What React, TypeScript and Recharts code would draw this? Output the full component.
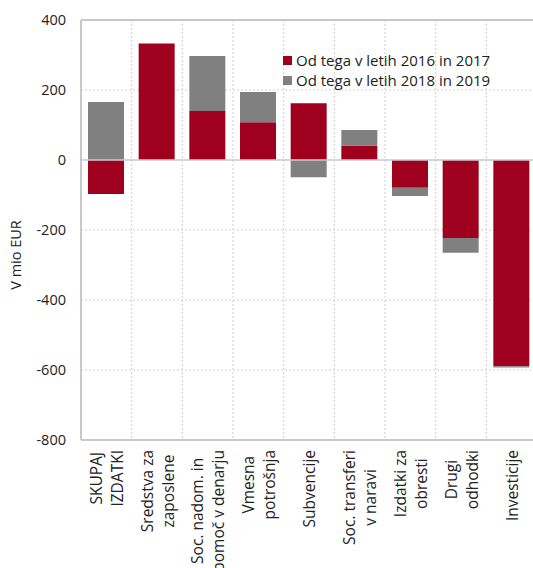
import { BarChart, Bar, XAxis, YAxis, CartesianGrid, ReferenceLine, Legend } from 'recharts'

const categories = [
  'SKUPAJ\nIZDATKI',
  'Sredstva za\nzaposlene',
  'Soc. nadom. in\npomoč v denarju',
  'Vmesna\npotrošnja',
  'Subvencije',
  'Soc. transferi\nv naravi',
  'Izdatki za\nobresti',
  'Drugi\nodhodki',
  'Investicije',
]
const red2016_2017 = [-97, 333, 140, 108, 162, 41, -79, -223, -589]
const gray2018_2019 = [166, 0, 157, 86, -49, 45, -24, -42, -4]
const yTicks = [400, 200, 0, -200, -400, -600, -800]

const RED = '#9e001e'
const GRAY = '#808080'
const FONT = '"Open Sans", sans-serif'
const FS = 15.5

const data = categories.map((c, i) => ({ name: c, red: red2016_2017[i], gray: gray2018_2019[i] }))

let ctx: CanvasRenderingContext2D | null = null
function measure(s: string) {
  if (!ctx) ctx = document.createElement('canvas').getContext('2d')
  if (!ctx) return s.length * FS * 0.55
  ctx.font = `${FS}px ${FONT}`
  return ctx.measureText(s).width
}

function XTick(props: any) {
  const { x, y, payload } = props
  const lines: string[] = String(payload.value).split('\n')
  const maxW = Math.max(...lines.map(measure))
  const cx = -(10 + maxW / 2)
  return (
    <g transform={`translate(${x},${y}) rotate(-90)`}>
      {lines.map((l, i) => (
        <text key={i} x={cx} y={(i - (lines.length - 1) / 2) * 21} textAnchor="middle" dominantBaseline="central"
          fontSize={FS} fontFamily={FONT} fill="#222">{l}</text>
      ))}
    </g>
  )
}

function LegendBox() {
  const items = [
    { label: 'Od tega v letih 2016 in 2017', color: RED },
    { label: 'Od tega v letih 2018 in 2019', color: GRAY },
  ]
  return (
    <div style={{ fontFamily: FONT, fontSize: 15, color: '#222', whiteSpace: 'nowrap' }}>
      {items.map((it) => (
        <div key={it.label} style={{ display: 'flex', alignItems: 'center', height: 20 }}>
          <span style={{ width: 9, height: 9, background: it.color, marginRight: 4, display: 'inline-block' }} />
          {it.label}
        </div>
      ))}
    </div>
  )
}

export default function App() {
  return (
    <div style={{ position: 'absolute', left: 0, top: 0, width: 533, height: 568, overflow: 'hidden', background: '#fff' }}>
      <BarChart width={537} height={568} data={data} stackOffset="sign" margin={{ top: 20, right: 0, left: 0, bottom: 0 }}>
        <CartesianGrid
          stroke="#cfcfcf"
          strokeDasharray="2 2"
          verticalCoordinatesGenerator={({ offset }: any) =>
            categories.map((_, i) => offset.left + ((i + 1) * offset.width) / categories.length)
          }
        />
        <XAxis dataKey="name" height={128} tick={<XTick />} tickLine={false} tickSize={0} tickMargin={0} interval={0}
          axisLine={{ stroke: '#c8c8c8', strokeWidth: 2 }} />
        <YAxis width={81} domain={[-800, 400]} ticks={yTicks} tickLine={false} tickSize={0} tickMargin={15}
          axisLine={{ stroke: '#c8c8c8', strokeWidth: 2 }}
          tick={{ fontSize: 14.5, fontFamily: FONT, fill: '#222' }}
          label={{
            content: () => (
              <text x={15} y={255} transform="rotate(-90 15 255)" textAnchor="middle" dominantBaseline="central"
                fontSize={14.5} fontFamily={FONT} fill="#222">V mio EUR</text>
            ),
          }}
        />
        <ReferenceLine y={400} stroke="#c8c8c8" strokeWidth={2} />
        <ReferenceLine y={0} stroke="#cccccc" strokeWidth={1.5} />
        <Legend content={<LegendBox />} layout="vertical" verticalAlign="middle" align="center"
          wrapperStyle={{ top: 50, left: 283, width: 250 }} />
        <Bar dataKey="red" stackId="a" fill={RED} barSize={36} isAnimationActive={false} />
        <Bar dataKey="gray" stackId="a" fill={GRAY} barSize={36} isAnimationActive={false} />
      </BarChart>
    </div>
  )
}
